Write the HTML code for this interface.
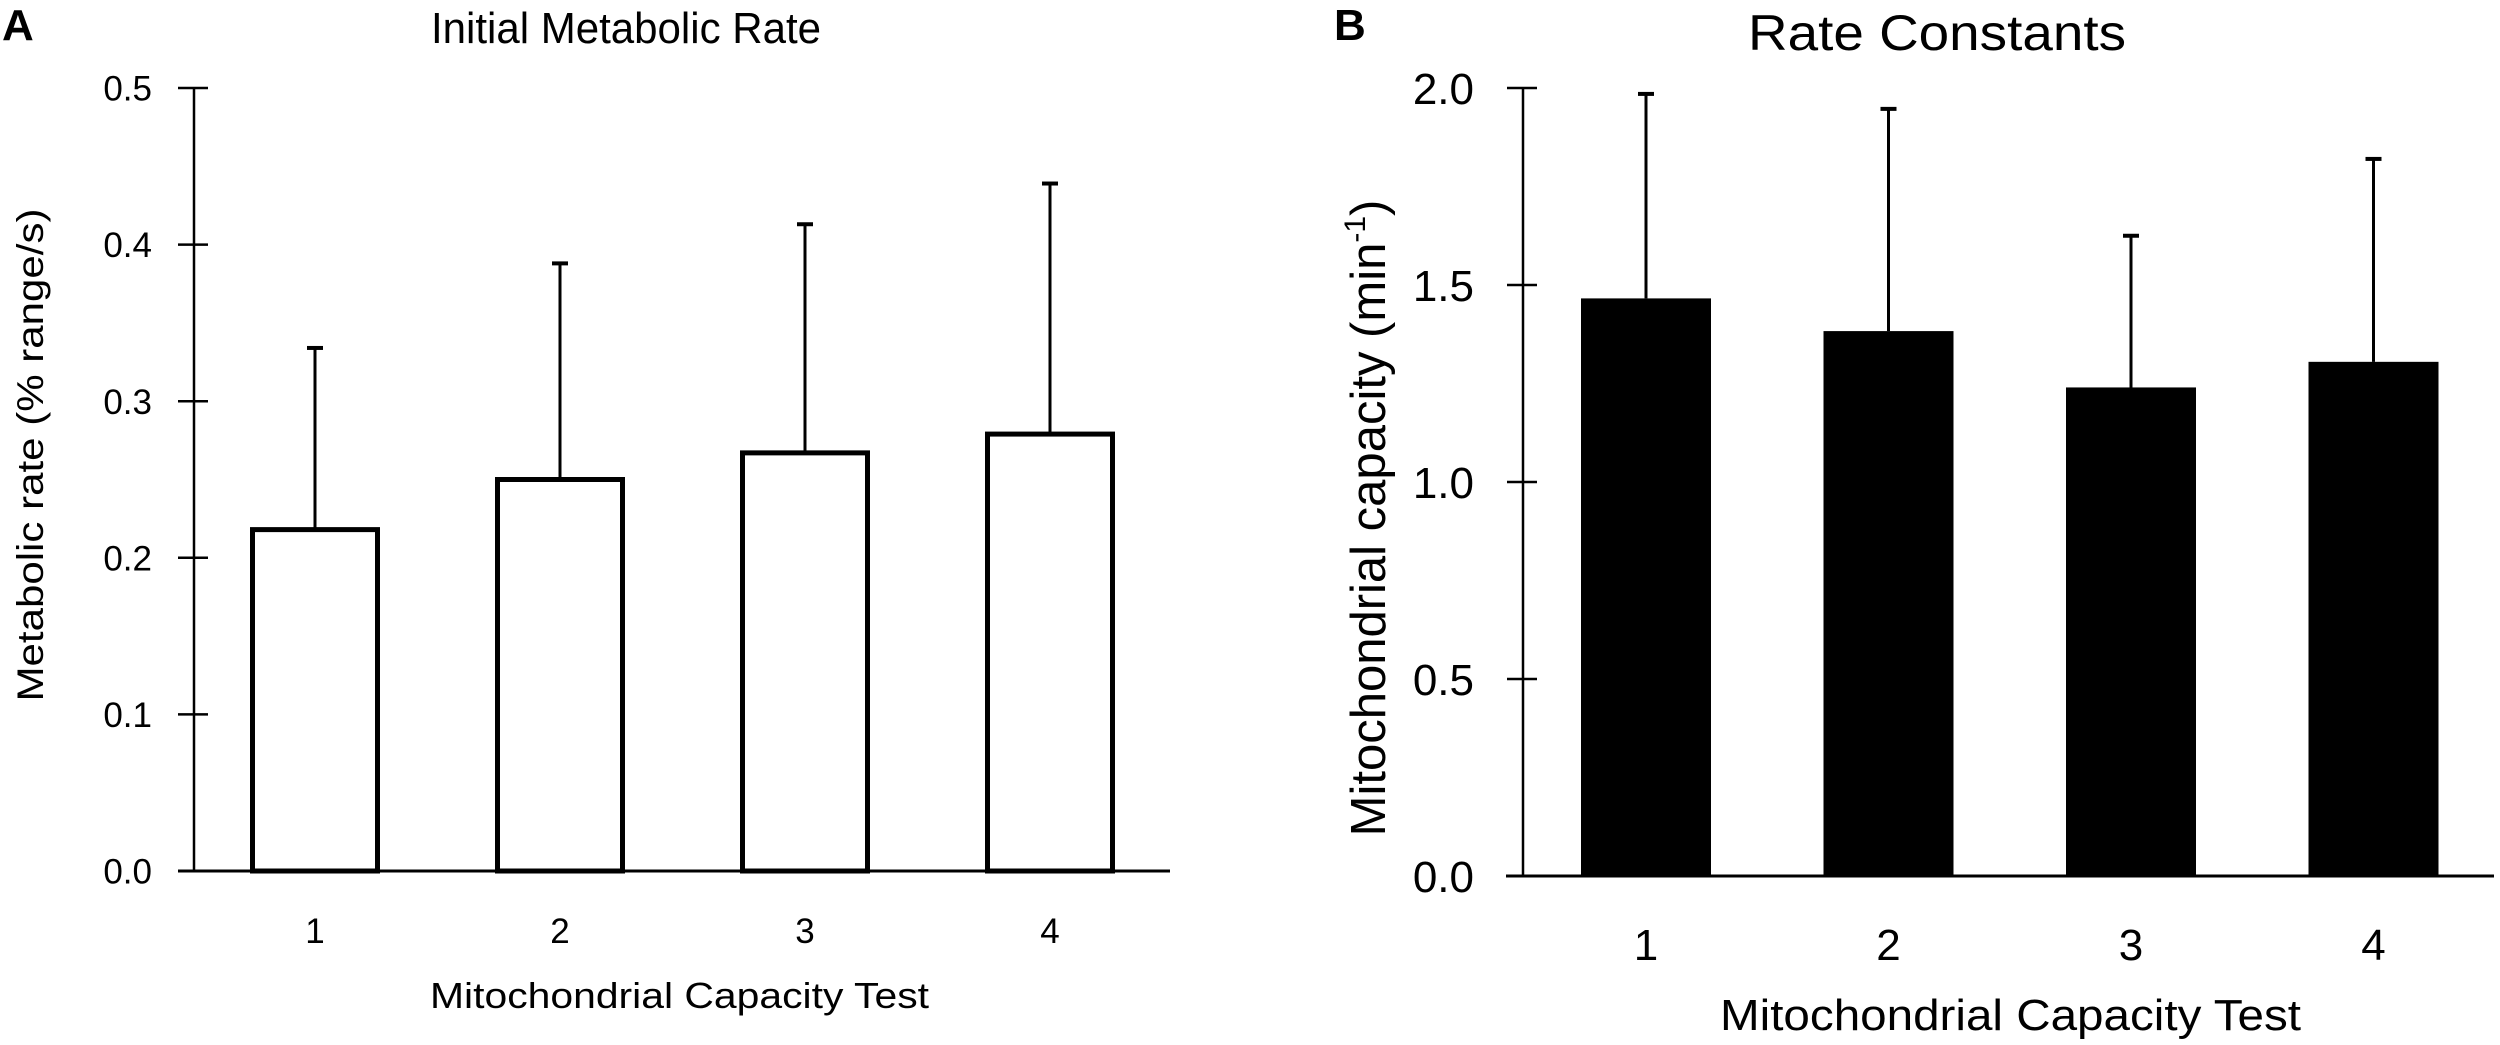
<!DOCTYPE html>
<html><head><meta charset="utf-8"><style>
html,body{margin:0;padding:0;background:#fff;}
svg{display:block;font-family:"Liberation Sans",sans-serif;}
</style></head><body>
<svg id="fig" width="2500" height="1045" viewBox="0 0 2500 1045">
<text x="2" y="40" font-size="44" font-weight="bold">A</text>
<text x="1334" y="40" font-size="44" font-weight="bold">B</text>
<text x="431" y="43" font-size="44" textLength="390" lengthAdjust="spacingAndGlyphs">Initial Metabolic Rate</text>
<text x="1748" y="50" font-size="50" textLength="378" lengthAdjust="spacingAndGlyphs">Rate Constants</text>
<text transform="translate(43,455) rotate(-90)" text-anchor="middle" font-size="37" textLength="493" lengthAdjust="spacingAndGlyphs">Metabolic rate (% range/s)</text>
<text transform="translate(1385,518) rotate(-90)" text-anchor="middle" font-size="49">Mitochondrial capacity (min<tspan font-size="30" dy="-20">-1</tspan><tspan dy="20">)</tspan></text>
<text x="430" y="1008" font-size="36" textLength="499" lengthAdjust="spacingAndGlyphs">Mitochondrial Capacity Test</text>
<text x="1720" y="1030" font-size="44" textLength="581" lengthAdjust="spacingAndGlyphs">Mitochondrial Capacity Test</text>
<g id="ga"></g>
<g id="gb"></g>
</svg>
<script>
const categories = ["1","2","3","4"];
const aValues = [0.218, 0.250, 0.267, 0.279];
const aErrors = [0.116, 0.138, 0.146, 0.160];
const aTicks = ["0.0","0.1","0.2","0.3","0.4","0.5"];
const bValues = [1.466, 1.383, 1.240, 1.305];
const bErrors = [0.519, 0.564, 0.385, 0.515];
const bTicks = ["0.0","0.5","1.0","1.5","2.0"];
const NS = "http://www.w3.org/2000/svg";
function mk(parent, tag, attrs){
  const e = document.createElementNS(NS, tag);
  for (const k in attrs) e.setAttribute(k, attrs[k]);
  parent.appendChild(e);
  return e;
}
function drawChart(g, cfg){
  const y = v => cfg.y0 - (v - 0) / cfg.vmax * (cfg.y0 - cfg.yTop);
  const x = i => cfg.x1 + i * cfg.step;
  let ax = mk(g, "line", {x1:cfg.axX, x2:cfg.axX, y1:y(cfg.vmax), y2:cfg.y0, stroke:"#000", "stroke-width":2.5});
  
  
  cfg.ticks.forEach(t => {
    const v = parseFloat(t);
    const tk = mk(g, "line", {x1:cfg.axX-16, x2:cfg.axX+(v===0?0:14), y1:y(v), y2:y(v), stroke:"#000", "stroke-width":2.5});
    
    
    const tl = mk(g, "text", {x:cfg.tickRight, y:y(v)+cfg.tickFs*0.36, "text-anchor":"end", "font-size":cfg.tickFs});
    tl.textContent = t;
    
    
  });
  categories.forEach((c, i) => {
    const cx = x(i), top = y(cfg.values[i]), errTop = y(cfg.values[i] + cfg.errors[i]);
    const eb = mk(g, "line", {x1:cx, x2:cx, y1:errTop, y2:top, stroke:"#000", "stroke-width":3});
    
    
    const cap = mk(g, "line", {x1:cx-8, x2:cx+8, y1:errTop, y2:errTop, stroke:"#000", "stroke-width":4});
    
    
    const bw = cfg.barW;
    const r = mk(g, "rect", cfg.filled
      ? {x:cx-bw/2, y:top, width:bw, height:cfg.y0-top, fill:"#000"}
      : {x:cx-bw/2+2.5, y:top, width:bw-5, height:cfg.y0-top, fill:"#fff", stroke:"#000", "stroke-width":5});
    
    
    const xl = mk(g, "text", {x:cx, y:cfg.xLabY, "text-anchor":"middle", "font-size":cfg.xFs});
    xl.textContent = c;
    
    
  });
  const xa = mk(g, "line", {x1:cfg.xaStart, x2:cfg.xaEnd, y1:cfg.y0, y2:cfg.y0, stroke:"#000", "stroke-width":3});
  
  
}
drawChart(document.getElementById("ga"), {
  values:aValues, errors:aErrors, ticks:aTicks, vmax:0.5, y0:871, yTop:88,
  axX:194, x1:315, step:245, barW:130, tickRight:152, tickFs:35, xFs:35, xLabY:943,
  xaStart:178, xaEnd:1170, filled:false
});
drawChart(document.getElementById("gb"), {
  values:bValues, errors:bErrors, ticks:bTicks, vmax:2.0, y0:876, yTop:88,
  axX:1523, x1:1646, step:242.5, barW:130, tickRight:1474, tickFs:44, xFs:44, xLabY:960,
  xaStart:1506, xaEnd:2494, filled:true
});
</script>
</body></html>
